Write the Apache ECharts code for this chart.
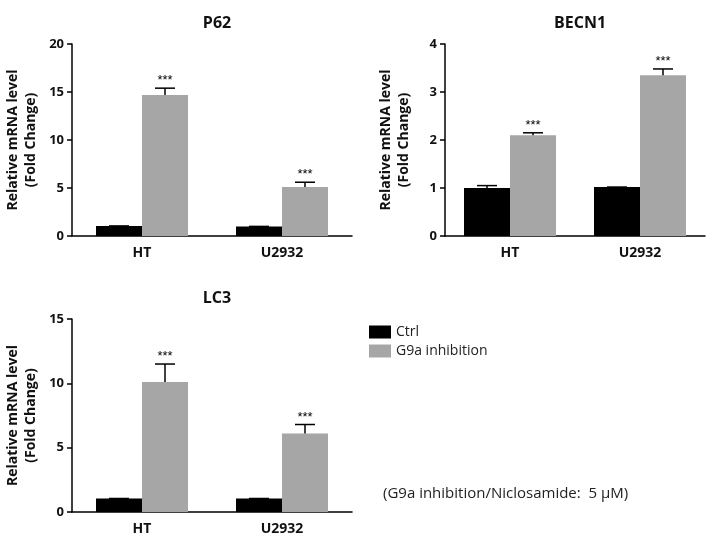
<!DOCTYPE html>
<html><head><meta charset="utf-8">
<script src="https://cdn.jsdelivr.net/npm/echarts@6/dist/echarts.min.js"></script>
<style>html,body{margin:0;background:#fff}#c{width:719px;height:541px}</style>
</head><body><div id="c"></div>
<script>
const categories = ['HT', 'U2932'];
const titles = ['P62', 'BECN1', 'LC3'];
const ctrlP62 = [1.05, 1.0], g9aP62 = [14.7, 5.1], errP62 = [15.4, 5.6];
const ctrlBECN1 = [1.0, 1.02], g9aBECN1 = [2.1, 3.35], errBECN1 = [2.15, 3.48], errCtrlBECN1 = [1.05, 1.02];
const ctrlLC3 = [1.05, 1.05], g9aLC3 = [10.1, 6.1], errLC3 = [11.5, 6.8];
const yMax = [20, 4, 15], yInt = [5, 1, 5];

const panels = [
  {ctrl: ctrlP62, g9a: g9aP62, err: errP62, ctrlErr: ctrlP62},
  {ctrl: ctrlBECN1, g9a: g9aBECN1, err: errBECN1, ctrlErr: errCtrlBECN1},
  {ctrl: ctrlLC3, g9a: g9aLC3, err: errLC3, ctrlErr: ctrlLC3}
];
const grids = [
  {left: 72, top: 44, width: 280, height: 192},
  {left: 445, top: 44, width: 260, height: 192},
  {left: 72, top: 319, width: 280, height: 193}
];
const BW = 46;
const font = 'Open Sans, Arial, sans-serif';
const option = {
  animation: false,
  textStyle: {fontFamily: font},
  title: titles.map((t, i) => ({text: t, left: grids[i].left + grids[i].width / 2, textAlign: 'center',
    top: grids[i].top - 34, textStyle: {fontSize: 16, fontWeight: 'bold', color: '#111'}})),
  legend: {data: ['Ctrl', 'G9a inhibition'], orient: 'vertical', left: 364, top: 320, itemWidth: 22, itemHeight: 13,
    itemGap: 5, textStyle: {fontSize: 14, color: '#222'}, icon: 'rect'},
  grid: grids,
  xAxis: grids.map((g, i) => ({type: 'category', gridIndex: i, data: categories,
    axisLine: {lineStyle: {color: '#000', width: 1.5}}, axisTick: {show: false},
    axisLabel: {fontWeight: 'bold', fontSize: 14, color: '#111', margin: 10}})),
  yAxis: grids.map((g, i) => ({type: 'value', gridIndex: i, min: 0, max: yMax[i], interval: yInt[i],
    name: 'Relative mRNA level\n(Fold Change)', nameLocation: 'middle', nameGap: 32,
    nameTextStyle: {fontWeight: 'bold', fontSize: 14, color: '#111', lineHeight: 18},
    splitLine: {show: false}, axisLine: {show: true, lineStyle: {color: '#000', width: 1.5}},
    axisTick: {show: true, length: 5, lineStyle: {color: '#000', width: 1.5}},
    axisLabel: {fontSize: 13, color: '#111', fontWeight: 'bold', margin: 8}})),
  graphic: [{type: 'text', left: 383, top: 486, style: {text: '(G9a inhibition/Niclosamide:  5 μM)', fontSize: 15, fill: '#222', fontFamily: font}}],
  series: []
};
function errSeries(i, vals, tops, off, stars) {
  return {type: 'custom', xAxisIndex: i, yAxisIndex: i, z: 5,
    data: vals.map((v, k) => [k, v, tops[k]]),
    renderItem: (params, api) => {
      const c = api.coord([api.value(0), api.value(1)]);
      const t = api.coord([api.value(0), api.value(2)]);
      const x = c[0] + off;
      const ch = [
        {type: 'line', shape: {x1: x, y1: c[1], x2: x, y2: t[1]}, style: {stroke: '#000', lineWidth: 1.5}},
        {type: 'line', shape: {x1: x - 10, y1: t[1], x2: x + 10, y2: t[1]}, style: {stroke: '#000', lineWidth: 1.5}}
      ];
      if (stars) ch.push({type: 'text', style: {text: '***', x: x, y: t[1] - 1, align: 'center', verticalAlign: 'bottom', fontSize: 13, fill: '#000'}});
      return {type: 'group', children: ch};
    }};
}
panels.forEach((p, i) => {
  option.series.push({name: 'Ctrl', type: 'bar', xAxisIndex: i, yAxisIndex: i, data: p.ctrl, barWidth: BW, barGap: '0%',
    itemStyle: {color: '#000'}});
  option.series.push({name: 'G9a inhibition', type: 'bar', xAxisIndex: i, yAxisIndex: i, data: p.g9a, barWidth: BW, barGap: '0%',
    itemStyle: {color: '#a6a6a6'}});
  option.series.push(errSeries(i, p.ctrl, p.ctrlErr, -BW / 2, false));
  option.series.push(errSeries(i, p.g9a, p.err, BW / 2, true));
});
echarts.init(document.getElementById('c')).setOption(option);
</script></body></html>
